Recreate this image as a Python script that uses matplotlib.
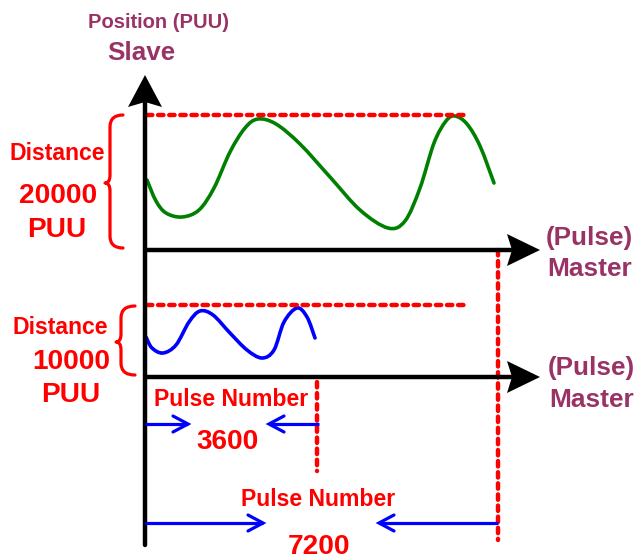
import numpy as np
import matplotlib
matplotlib.use("Agg")
import matplotlib.pyplot as plt
from matplotlib.path import Path
from matplotlib.patches import PathPatch, Polygon

# ---------------- data (pixel space) ----------------
distance_labels = ["20000", "10000"]
pulse_labels = ["3600", "7200"]
axis_titles = ["Position (PUU)", "Slave"]
master_label = ["(Pulse)", "Master"]

green_x = [147, 156, 166, 182, 199, 214, 230, 245, 258, 276, 300, 330, 360, 388, 405, 420, 434, 446, 455, 467, 480, 494]
green_y = [180, 201, 213, 217, 210, 188, 152, 128, 119, 124, 144, 177, 210, 228, 221, 188, 143, 121, 116, 124, 146, 183]

blue_x = [146, 152, 163, 176, 189, 200, 213, 230, 247, 262, 274, 284, 297, 307, 315]
blue_y = [337, 348, 353, 345, 322, 311, 315, 333, 350, 358, 350, 322, 308, 317, 338]

# ---------------- figure ----------------
W, H = 637, 559
fig = plt.figure(figsize=(W / 100, H / 100), dpi=100)
ax = fig.add_axes([0, 0, 1, 1])
ax.set_xlim(0, W)
ax.set_ylim(H, 0)
ax.axis("off")

RED = "#FF0000"
PURPLE = "#993366"
BLUE = "#0000FF"
GREEN = "#008000"
FONT = "Liberation Sans"


def smooth_path(xs, ys):
    """Catmull-Rom through the read points, drawn as cubic Bezier by matplotlib."""
    pts = np.column_stack([xs, ys]).astype(float)
    verts = [pts[0]]
    codes = [Path.MOVETO]
    n = len(pts)
    for i in range(n - 1):
        p0 = pts[i - 1] if i > 0 else pts[i]
        p1 = pts[i]
        p2 = pts[i + 1]
        p3 = pts[i + 2] if i + 2 < n else pts[i + 1]
        c1 = p1 + (p2 - p0) / 6.0
        c2 = p2 - (p3 - p1) / 6.0
        verts += [c1, c2, p2]
        codes += [Path.CURVE4] * 3
    return Path(verts, codes)


def brace(xr, xm, xc, yt, yb, ymid):
    verts = [(xr, yt), (xm, yt), (xm, yt + 12),
             (xm, ymid - 8),
             (xm, ymid), (xc, ymid),
             (xm, ymid), (xm, ymid + 8),
             (xm, yb - 12),
             (xm, yb), (xr, yb)]
    codes = [Path.MOVETO, Path.CURVE3, Path.CURVE3,
             Path.LINETO,
             Path.CURVE3, Path.CURVE3,
             Path.CURVE3, Path.CURVE3,
             Path.LINETO,
             Path.CURVE3, Path.CURVE3]
    ax.add_patch(PathPatch(Path(verts, codes), fill=False, edgecolor=RED, lw=2.3,
                           capstyle="round", joinstyle="round"))


def open_arrow(x0, x1, y):
    d = 1 if x1 > x0 else -1
    ax.plot([x0, x1], [y, y], color=BLUE, lw=2.3, solid_capstyle="butt")
    L, Wd = 15, 8
    ax.plot([x1 - d * L, x1, x1 - d * L], [y - Wd, y, y + Wd], color=BLUE, lw=2.3,
            solid_capstyle="round", solid_joinstyle="miter")


def red_dotted(xs, ys):
    ax.plot(xs, ys, color=RED, lw=3.2, linestyle=(0, (1.2, 1.3)),
            dash_capstyle="round")


# red dotted guides
red_dotted([147, 468], [115, 115])
red_dotted([147, 468], [305, 305])
red_dotted([498, 498], [250, 540])
red_dotted([317, 317], [382, 471])

# axes lines
AX_X = 145
ax.plot([AX_X, AX_X], [545, 100], color="black", lw=3.2, solid_capstyle="round")
ax.plot([AX_X, 512], [250, 250], color="black", lw=3.2, solid_capstyle="butt")
ax.plot([AX_X, 512], [377, 377], color="black", lw=3.2, solid_capstyle="butt")
# arrowheads
ax.add_patch(Polygon([(AX_X, 75), (AX_X - 17, 107), (AX_X, 102), (AX_X + 17, 107)],
                     closed=True, color="black", lw=0))
for yy in (250, 377):
    ax.add_patch(Polygon([(540, yy), (507, yy - 16), (512, yy), (507, yy + 16)],
                         closed=True, color="black", lw=0))

# curves
ax.add_patch(PathPatch(smooth_path(green_x, green_y), fill=False, edgecolor=GREEN,
                       lw=2.6, capstyle="round"))
ax.add_patch(PathPatch(smooth_path(blue_x, blue_y), fill=False, edgecolor=BLUE,
                       lw=2.6, capstyle="round"))

# braces
brace(123, 110, 105, 115, 248, 183)
brace(135, 121, 116, 306, 375, 342)

# blue pulse arrows
open_arrow(AX_X, 188, 424)
open_arrow(319, 269, 424)
open_arrow(AX_X, 263, 523)
open_arrow(498, 379, 523)

# texts
def txt(x, y, s, size, color):
    ax.text(x, y, s, fontsize=size, color=color, fontweight="bold", family=FONT,
            ha="center", va="center")

txt(158, 23, axis_titles[0], 14.5, PURPLE)
txt(141, 53, axis_titles[1], 18.7, PURPLE)

txt(57, 153, "Distance", 16.6, RED)
txt(58, 196, distance_labels[0], 20.2, RED)
txt(57, 230, "PUU", 20.2, RED)

txt(60, 327, "Distance", 16.6, RED)
txt(71, 362, distance_labels[1], 20.2, RED)
txt(71, 395, "PUU", 20.2, RED)

txt(589, 238, master_label[0], 18.8, PURPLE)
txt(590, 269, master_label[1], 18.9, PURPLE)
txt(591, 368, master_label[0], 18.8, PURPLE)
txt(592, 400, master_label[1], 18.9, PURPLE)

txt(231, 400, "Pulse Number", 16.6, RED)
txt(228, 442, pulse_labels[0], 20.2, RED)
txt(318, 500, "Pulse Number", 16.6, RED)
txt(319, 547, pulse_labels[1], 20.2, RED)

fig.savefig("out.png", dpi=100)
